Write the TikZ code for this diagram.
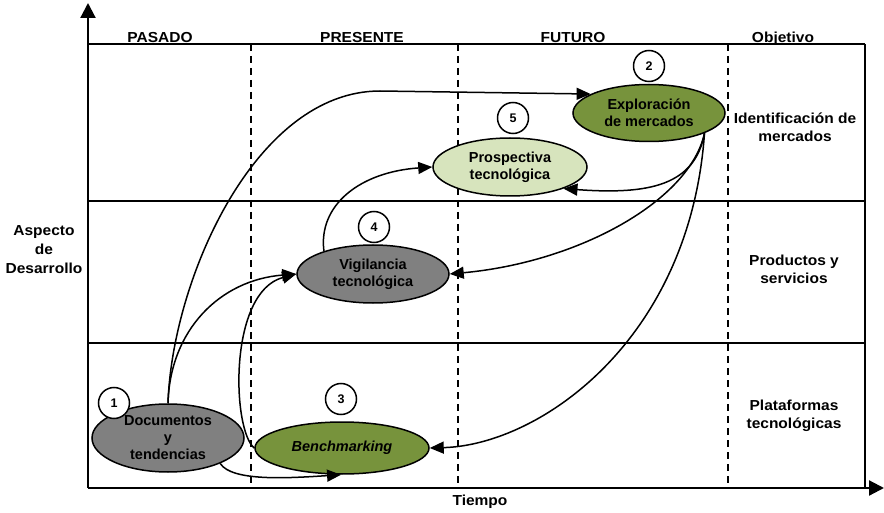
\documentclass[tikz,border=0pt]{standalone}
\usepackage{fontspec}
\setmainfont{Liberation Sans}
\newfontfamily\labelfont{Liberation Sans}[FakeStretch=1.07]
\usetikzlibrary{shapes.geometric,arrows.meta}
\definecolor{phaseDark}{HTML}{77933C}
\definecolor{phaseLight}{HTML}{D7E4BD}
\definecolor{phaseGrey}{HTML}{808080}
\begin{document}
\begin{tikzpicture}[x=1pt,y=-1pt,
  font=\fontsize{14.5}{17}\selectfont\bfseries,
  gridline/.style={line width=1.5pt},
  axisline/.style={line width=2.2pt,-{Triangle[length=15pt,width=15pt]}},
  divider/.style={line width=1.5pt,dash pattern=on 7pt off 5pt},
  phase/.style={ellipse,draw,line width=1.5pt,inner sep=0pt,align=center},
  flow/.style={line width=1.5pt,-{Triangle[length=14pt,width=12pt]}},
  badge/.style={circle,draw,fill=white,line width=1.5pt,minimum size=31pt,inner sep=0pt,
    font=\fontsize{12.5}{13}\selectfont\bfseries},
  caption/.style={font=\labelfont\fontsize{14.5}{18}\selectfont\bfseries,align=center,inner sep=0pt}]

\fill[white] (0,0) rectangle (884,513);
\useasboundingbox (0,0) rectangle (884,513);

% frame and rows
\draw[gridline] (88,44) -- (865,44);
\draw[gridline] (88,201) -- (865,201);
\draw[gridline] (88,343) -- (865,343);
\draw[line width=2pt] (865,44) -- (865,488);

% time divisions
\draw[divider] (251,44) -- (251,488);
\draw[divider] (458,44) -- (458,488);
\draw[divider] (728,44) -- (728,488);

% axes
\coordinate (origin) at (88,488);
\coordinate (ytop) at (88,3);
\coordinate (xend) at (884,488);
\draw[axisline] (origin) -- (ytop);
\draw[axisline] (origin) -- (xend);

% phases
\node[phase,fill=phaseDark,minimum width=152pt,minimum height=57pt] (expl) at (649,113) {Exploración\\de mercados};
\node[phase,fill=phaseLight,minimum width=154pt,minimum height=58pt] (prosp) at (510,167) {Prospectiva\\tecnológica};
\node[phase,fill=phaseGrey,minimum width=152pt,minimum height=58pt] (vig) at (373,274) {Vigilancia\\tecnológica};
\node[phase,fill=phaseGrey,minimum width=152pt,minimum height=68pt] (doc) at (168,438) {Documentos\\y\\tendencias};
\node[phase,fill=phaseDark,minimum width=174pt,minimum height=52pt] (bench) at (342,448) {\itshape Benchmarking};

% flows
\coordinate (bend) at (380,91);
\draw[flow] (doc.north) .. controls (172,280) and (255,91) .. (bend) -- (expl.162);
\draw[flow] (doc.north) .. controls (170,330) and (220,280) .. (vig.west);
\draw[flow] (doc.-26) .. controls (232,482) and (290,478) .. (bench.-92);
\draw[flow] (bench.west) .. controls (232,430) and (228,292) .. (vig.west);
\draw[flow] (vig.155) .. controls (318,205) and (360,172) .. (prosp.west);
\draw[flow] (expl.-20) .. controls (695,185) and (650,195) .. (prosp.-22);
\draw[flow] (expl.-20) .. controls (690,200) and (580,262) .. (vig.east);
\draw[flow] (expl.-20) .. controls (690,340) and (540,445) .. (bench.east);

% step numbers
\node[badge] (n1) at (114,403) {1};
\node[badge] (n2) at (649,66) {2};
\node[badge] (n3) at (341,399) {3};
\node[badge] (n4) at (374,227) {4};
\node[badge] (n5) at (513,118) {5};

% headers
\node[caption,anchor=base] (hpast) at (160,42.5) {PASADO};
\node[caption,anchor=base] (hpres) at (362,42.5) {PRESENTE};
\node[caption,anchor=base] (hfut) at (573,42.5) {FUTURO};
\node[caption,anchor=base] (hobj) at (783,42.5) {Objetivo};

% row objectives
\node[caption] (r1) at (795,127) {Identificación de\\mercados};
\node[caption] (r2) at (794,269) {Productos y\\servicios};
\node[caption] (r3) at (794,416) {Plataformas\\tecnológicas};

% axis titles
\node[caption,font=\labelfont\fontsize{14.5}{19}\selectfont\bfseries] (yaxis) at (44,250) {Aspecto\\de\\Desarrollo};
\node[caption,anchor=base] (xaxis) at (480,505) {Tiempo};
\end{tikzpicture}
\end{document}
